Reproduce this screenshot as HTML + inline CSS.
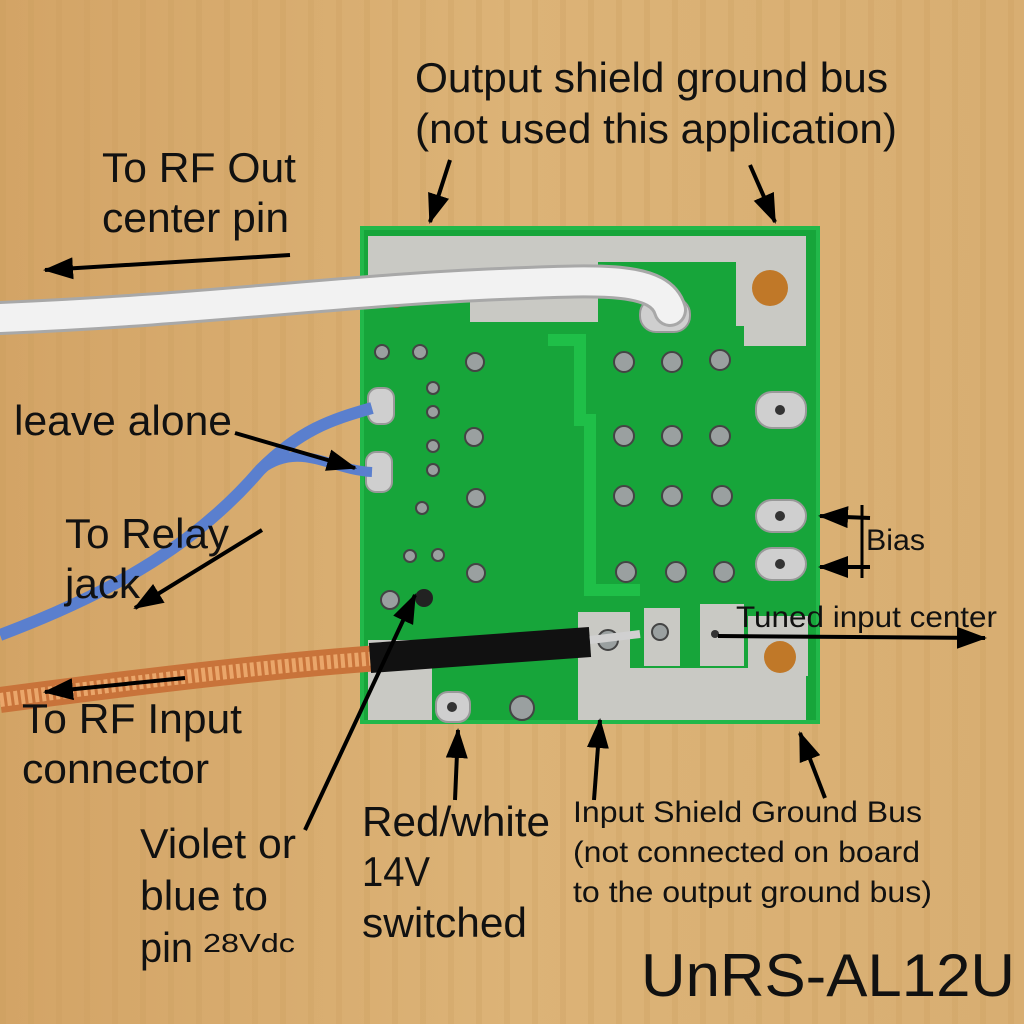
<!DOCTYPE html>
<html><head><meta charset="utf-8"><style>
html,body{margin:0;padding:0;width:1024px;height:1024px;overflow:hidden;background:#d7ab6e}
svg{display:block}
text{font-family:"Liberation Sans",Arial,sans-serif;fill:#111}
</style></head><body>
<svg width="1024" height="1024" viewBox="0 0 1024 1024" xmlns="http://www.w3.org/2000/svg">
<defs>
<linearGradient id="bg" x1="0" y1="0" x2="1" y2="0">
<stop offset="0" stop-color="#d3a466"/><stop offset="0.5" stop-color="#dcb377"/><stop offset="1" stop-color="#d8ae72"/>
</linearGradient>
<pattern id="stripes" width="28" height="1024" patternUnits="userSpaceOnUse">
<rect x="0" width="6" height="1024" fill="#c99a5c" opacity="0.25"/>
</pattern>
<marker id="ahb" markerWidth="30" markerHeight="22" refX="28" refY="11" orient="auto" markerUnits="userSpaceOnUse" viewBox="0 0 30 22">
<path d="M0,0 L30,11 L0,22 z" fill="#000"/></marker>
</defs>
<rect width="1024" height="1024" fill="url(#bg)"/>
<rect width="1024" height="1024" fill="url(#stripes)"/>

<!-- PCB -->
<rect x="362" y="228" width="456" height="494" fill="#17a53a"/>
<rect x="362" y="228" width="456" height="494" fill="none" stroke="#22b84a" stroke-width="4"/>
<path d="M368 236 H806 V346 H744 V326 H736 V262 H598 V322 H470 V300 H368 Z" fill="#c9c9c4"/>
<rect x="368" y="640" width="64" height="80" fill="#c9c9c4"/>
<path d="M578 612 H630 V668 H806 V720 H578 Z" fill="#c9c9c4"/>
<rect x="644" y="608" width="36" height="58" fill="#c9c9c4"/>
<rect x="700" y="604" width="44" height="62" fill="#c9c9c4"/>
<rect x="748" y="616" width="60" height="60" fill="#c9c9c4"/>
<circle cx="770" cy="288" r="18" fill="#c07828"/>
<circle cx="780" cy="657" r="16" fill="#c07828"/>
<circle cx="396" cy="300" r="8" fill="#8a6a3a"/>
<path d="M548 340 H580 V420 H590 V590 H640" stroke="#1fbf48" stroke-width="12" fill="none"/>
<g fill="#cfcfcf" stroke="#999" stroke-width="2">
<rect x="368" y="388" width="26" height="36" rx="10"/>
<rect x="366" y="452" width="26" height="40" rx="10"/>
<rect x="756" y="392" width="50" height="36" rx="16"/>
<rect x="756" y="500" width="50" height="32" rx="16"/>
<rect x="756" y="548" width="50" height="32" rx="16"/>
<rect x="640" y="298" width="50" height="34" rx="16"/>
<rect x="436" y="692" width="34" height="30" rx="12"/>
</g>
<g fill="#333">
<circle cx="780" cy="410" r="5"/><circle cx="780" cy="516" r="5"/><circle cx="780" cy="564" r="5"/>
<circle cx="452" cy="707" r="5"/><circle cx="715" cy="634" r="4"/>
</g>
<g fill="#9aa0a0" stroke="#444" stroke-width="2">
<circle cx="382" cy="352" r="7"/><circle cx="420" cy="352" r="7"/><circle cx="475" cy="362" r="9"/>
<circle cx="433" cy="388" r="6"/><circle cx="433" cy="412" r="6"/><circle cx="474" cy="437" r="9"/>
<circle cx="433" cy="446" r="6"/><circle cx="433" cy="470" r="6"/><circle cx="476" cy="498" r="9"/>
<circle cx="422" cy="508" r="6"/><circle cx="410" cy="556" r="6"/><circle cx="438" cy="555" r="6"/>
<circle cx="476" cy="573" r="9"/><circle cx="390" cy="600" r="9"/>
<circle cx="624" cy="362" r="10"/><circle cx="672" cy="362" r="10"/><circle cx="720" cy="360" r="10"/>
<circle cx="624" cy="436" r="10"/><circle cx="672" cy="436" r="10"/><circle cx="720" cy="436" r="10"/>
<circle cx="624" cy="496" r="10"/><circle cx="672" cy="496" r="10"/><circle cx="722" cy="496" r="10"/>
<circle cx="626" cy="572" r="10"/><circle cx="676" cy="572" r="10"/><circle cx="724" cy="572" r="10"/>
<circle cx="522" cy="708" r="12"/><circle cx="608" cy="640" r="10"/><circle cx="660" cy="632" r="8"/>
</g>
<circle cx="424" cy="598" r="9" fill="#222"/>
<path d="M0 318 C200 310 350 290 500 284 C600 280 660 276 670 310" stroke="#a8a8a8" stroke-width="34" fill="none" stroke-linecap="round"/>
<path d="M0 318 C200 310 350 290 500 284 C600 280 660 276 670 310" stroke="#f2f2f2" stroke-width="28" fill="none" stroke-linecap="round"/>
<path d="M0 635 C120 590 200 540 260 470 C300 430 330 420 372 408" stroke="#5a7fce" stroke-width="12" fill="none"/>
<path d="M260 470 C300 440 330 470 372 472" stroke="#5a7fce" stroke-width="10" fill="none"/>
<path d="M0 700 C150 680 280 665 380 658" stroke="#c8733a" stroke-width="26" fill="none"/>
<path d="M0 700 C150 680 280 665 380 658" stroke="#eaa66a" stroke-width="14" fill="none" stroke-dasharray="4 3"/>
<path d="M370 658 L590 642" stroke="#111" stroke-width="30"/>
<path d="M590 640 L640 634" stroke="#d0d0d0" stroke-width="8"/>

<g stroke="#000" stroke-width="4">
<line x1="450" y1="160" x2="430" y2="222" marker-end="url(#ahb)"/>
<line x1="750" y1="165" x2="775" y2="222" marker-end="url(#ahb)"/>
<line x1="290" y1="255" x2="45" y2="270" marker-end="url(#ahb)"/>
<line x1="235" y1="433" x2="355" y2="468" marker-end="url(#ahb)"/>
<line x1="262" y1="530" x2="135" y2="608" marker-end="url(#ahb)"/>
<line x1="185" y1="678" x2="45" y2="692" marker-end="url(#ahb)"/>
<line x1="305" y1="830" x2="415" y2="595" marker-end="url(#ahb)"/>
<line x1="455" y1="800" x2="458" y2="730" marker-end="url(#ahb)"/>
<line x1="594" y1="800" x2="600" y2="720" marker-end="url(#ahb)"/>
<line x1="825" y1="798" x2="800" y2="733" marker-end="url(#ahb)"/>
<line x1="870" y1="518" x2="820" y2="516" marker-end="url(#ahb)"/>
<line x1="870" y1="567" x2="820" y2="567" marker-end="url(#ahb)"/>
<line x1="718" y1="636" x2="985" y2="638" marker-end="url(#ahb)"/>
</g>
<line x1="862" y1="505" x2="862" y2="578" stroke="#000" stroke-width="3"/>

<g font-size="42">
<text x="415" y="92" textLength="473" lengthAdjust="spacingAndGlyphs">Output shield ground bus</text>
<text x="415" y="143" textLength="482" lengthAdjust="spacingAndGlyphs">(not used this application)</text>
<text x="102" y="182" textLength="194" lengthAdjust="spacingAndGlyphs">To RF Out</text>
<text x="102" y="232" textLength="187" lengthAdjust="spacingAndGlyphs">center pin</text>
<text x="14" y="435" textLength="218" lengthAdjust="spacingAndGlyphs">leave alone</text>
<text x="65" y="548" textLength="164" lengthAdjust="spacingAndGlyphs">To Relay</text>
<text x="65" y="598" textLength="75" lengthAdjust="spacingAndGlyphs">jack</text>
<text x="22" y="733" textLength="220" lengthAdjust="spacingAndGlyphs">To RF Input</text>
<text x="22" y="783" textLength="187" lengthAdjust="spacingAndGlyphs">connector</text>
<text x="140" y="858" textLength="156" lengthAdjust="spacingAndGlyphs">Violet or</text>
<text x="140" y="910" textLength="128" lengthAdjust="spacingAndGlyphs">blue to</text>
<text x="140" y="962" textLength="53" lengthAdjust="spacingAndGlyphs">pin</text>
<text x="362" y="836" textLength="188" lengthAdjust="spacingAndGlyphs">Red/white</text>
<text x="362" y="886" textLength="68" lengthAdjust="spacingAndGlyphs">14V</text>
<text x="362" y="937" textLength="165" lengthAdjust="spacingAndGlyphs">switched</text>
</g>
<text x="203" y="952" font-size="26" textLength="92" lengthAdjust="spacingAndGlyphs">28Vdc</text>
<g font-size="30">
<text x="573" y="822" textLength="349" lengthAdjust="spacingAndGlyphs">Input Shield Ground Bus</text>
<text x="573" y="862" textLength="347" lengthAdjust="spacingAndGlyphs">(not connected on board</text>
<text x="573" y="902" textLength="359" lengthAdjust="spacingAndGlyphs">to the output ground bus)</text>
<text x="866" y="550" textLength="59" lengthAdjust="spacingAndGlyphs">Bias</text>
<text x="736" y="627" textLength="261" lengthAdjust="spacingAndGlyphs">Tuned input center</text>
</g>
<text x="641" y="996" font-size="60" textLength="374" lengthAdjust="spacingAndGlyphs">UnRS-AL12U</text>
</svg>
</body></html>
